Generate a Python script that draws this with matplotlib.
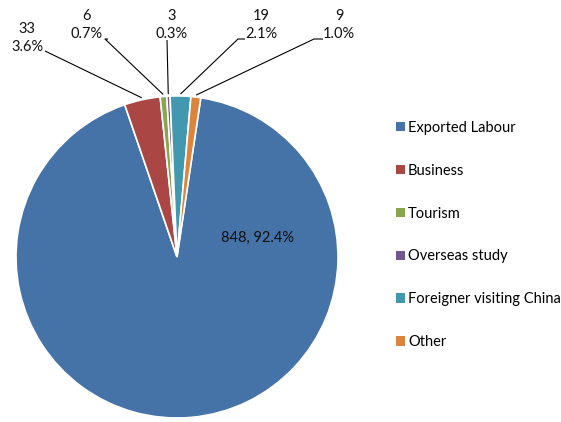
import numpy as np
import matplotlib
matplotlib.use("Agg")
import matplotlib.pyplot as plt

categories = ["Exported Labour", "Business", "Tourism", "Overseas study",
              "Foreigner visiting China", "Other"]
values = [848, 33, 6, 3, 19, 9]
percents = ["92.4%", "3.6%", "0.7%", "0.3%", "2.1%", "1.0%"]
colors = ["#4572A7", "#AA4643", "#89A54E", "#71588F", "#4198AF", "#DB843D"]

plt.rcParams['font.family'] = ['Lato', 'DejaVu Sans']
W, H = 561, 422
fig = plt.figure(figsize=(W / 100, H / 100), dpi=100)
ax = fig.add_axes([0, 0, 1, 1])

def Y(py):
    return H - py

cx, cy, R = 177, Y(257), 161
explode = [0] + [0.05] * (len(values) - 1)
wedges, _ = ax.pie(values, colors=colors, startangle=81.5, counterclock=False,
                   explode=explode, center=(cx, cy), radius=R,
                   wedgeprops=dict(edgecolor='white', linewidth=1.2),
                   frame=True)
ax.set_xlim(0, W)
ax.set_ylim(0, H)
ax.set_aspect('equal')
ax.axis('off')

fs = 10.5
ax.text(258, Y(238), f"{values[0]}, {percents[0]}", ha='center', va='center',
        fontsize=fs, color='#111111')

lab_pos = [
    None,
    ((27, 38), [(45, 51)]),
    ((87, 25), [(108, 39), (105, 39)]),
    ((172, 25), [(167, 40)]),
    ((261, 25), [(245, 39), (238, 39)]),
    ((339, 25), [(323, 39), (314, 39)]),
]
for i in range(1, len(values)):
    (tx, ty), pts = lab_pos[i]
    ax.text(tx, Y(ty), f"{values[i]}\n{percents[i]}", ha='center', va='center',
            fontsize=fs, color='#111111', linespacing=1.35)
    w = wedges[i]
    mid = np.deg2rad((w.theta1 + w.theta2) / 2)
    wx0, wy0 = w.center
    ex = wx0 + (R + 2) * np.cos(mid)
    ey = wy0 + (R + 2) * np.sin(mid)
    xs = [p[0] for p in pts] + [ex]
    ys = [Y(p[1]) for p in pts] + [ey]
    ax.plot(xs, ys, color='black', linewidth=0.8, solid_capstyle='butt')

leg = ax.legend(wedges, categories, loc='center left',
                bbox_to_anchor=(396, Y(235)), bbox_transform=ax.transData,
                frameon=False, fontsize=fs, labelspacing=1.98,
                handlelength=0.62, handleheight=0.62, handletextpad=0.2,
                borderpad=0, borderaxespad=0)
for h in leg.legend_handles:
    h.set_edgecolor('none')

fig.savefig("out.png", dpi=100)
